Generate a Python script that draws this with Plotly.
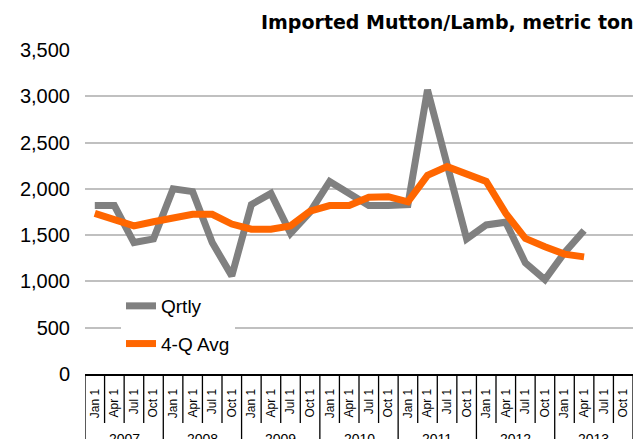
import plotly.graph_objects as go

years = ["2007", "2008", "2009", "2010", "2011", "2012", "2013"]
quarters = ["Jan 1", "Apr 1", "Jul 1", "Oct 1"]
qrtly = [1820, 1820, 1420, 1460, 2000, 1970, 1420, 1060, 1830, 1950, 1520, 1750, 2080,
         1940, 1820, 1820, 1830, 3070, 2250, 1460, 1610, 1640, 1200, 1020, 1310, 1550]
avg4q = [1735, 1670, 1600, 1645, 1690, 1725, 1725, 1620, 1565, 1565, 1600, 1760, 1820,
         1820, 1910, 1915, 1860, 2145, 2240, 2155, 2080, 1735, 1465, 1375, 1295, 1265]
y_ticks = [0, 500, 1000, 1500, 2000, 2500, 3000, 3500]
title_text = "Imported Mutton/Lamb, metric ton"

cat_labels = [q for _ in years for q in quarters]
n_cat = len(cat_labels)
cat_pos = list(range(n_cat))

W, H = 644, 439
ML, MR, MT, MB = 85, 11, 50, 65
plot_h = H - MT - MB
plot_w = W - ML - MR
base_y = H - MB  # pixel row of the x axis

fig = go.Figure()
fig.add_trace(go.Scatter(x=cat_pos[:len(qrtly)], y=qrtly, mode="lines", name="Qrtly",
                         line=dict(color="#808080", width=7), legendgroup="a"))
fig.add_trace(go.Scatter(x=cat_pos[:len(avg4q)], y=avg4q, mode="lines", name="4-Q Avg",
                         line=dict(color="#FF6600", width=7), legendgroup="b"))

shapes = []
nq = len(quarters)
for i in range(n_cat + 1):
    is_year = (i % nq == 0)
    depth = 70 if is_year else 49
    shapes.append(dict(type="line", xref="x", yref="paper", x0=i - 0.5, x1=i - 0.5,
                       y0=0, y1=-depth / plot_h, line=dict(color="black", width=1.3)))

annotations = []
for k, yr in enumerate(years):
    annotations.append(dict(x=k * nq + (nq - 1) / 2, y=-55 / plot_h, xref="x", yref="paper",
                            text=yr, showarrow=False, yanchor="top",
                            font=dict(family="Liberation Sans, Arial", size=14, color="black")))
annotations.append(dict(x=(636 - ML) / plot_w, y=(base_y - 22) / plot_h, xref="paper", yref="paper",
                        text="<b>" + title_text + "</b>", showarrow=False,
                        xanchor="right", yanchor="middle",
                        font=dict(family="DejaVu Sans", size=19, color="black")))

fig.update_layout(
    width=W, height=H,
    margin=dict(l=ML, r=MR, t=MT, b=MB, autoexpand=False),
    paper_bgcolor="white", plot_bgcolor="white",
    shapes=shapes, annotations=annotations,
    showlegend=True,
    legend=dict(x=(121 - ML) / plot_w, y=(base_y - 287) / plot_h, xanchor="left", yanchor="top",
                bgcolor="white", font=dict(family="Liberation Sans, Arial", size=19, color="black"),
                traceorder="grouped", tracegroupgap=10),
    xaxis=dict(range=[-0.5, n_cat - 0.5], tickvals=cat_pos, ticktext=cat_labels,
               tickangle=-90, showgrid=False, zeroline=False, showline=True,
               linecolor="black", linewidth=2, ticks="", automargin=False,
               ticklabelstandoff=8,
               tickfont=dict(family="Liberation Sans, Arial", size=12, color="black")),
    yaxis=dict(range=[0, 3500], tickvals=y_ticks, tickformat=",", showgrid=True,
               gridcolor="#c0c0c0", gridwidth=2, zeroline=False, showline=False,
               ticks="", ticklabelstandoff=14, automargin=False,
               tickfont=dict(family="Liberation Sans, Arial", size=20, color="black")),
)

fig.write_html("out.html", config={"displayModeBar": False},
               post_script="document.body.style.margin='0';")
